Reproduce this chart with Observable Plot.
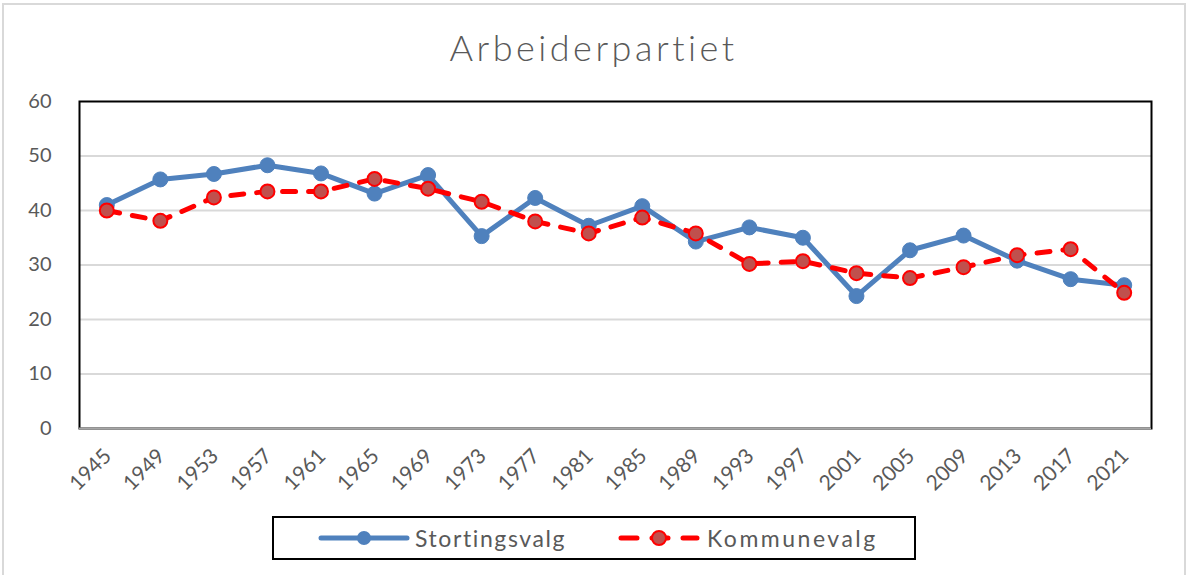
<!DOCTYPE html>
<html>
<head>
<meta charset="utf-8">
<script src="https://cdn.jsdelivr.net/npm/d3@7"></script>
<script src="https://cdn.jsdelivr.net/npm/@observablehq/plot@0.6"></script>
<style>
  html, body { margin: 0; padding: 0; background: #fff; }
  #chart { position: relative; width: 1187px; height: 575px; font-family: Lato, "Open Sans", sans-serif; color: #595959; }
  #border { position: absolute; left: 2px; top: 3px; width: 1184px; height: 572px; border: 2px solid #d9d9d9; box-sizing: border-box; border-bottom: none; }
  #title { position: absolute; left: 0; top: 26px; width: 1187px; text-align: center; font-size: 36px; font-weight: 300; line-height: 42px; letter-spacing: 3.5px; }
  #plot { position: absolute; left: 0; top: 80px; }
  #legend { position: absolute; left: 272px; top: 516px; width: 644px; height: 44px; border: 2px solid #000; box-sizing: border-box; }
  .item { position: absolute; top: 0; height: 40px; display: flex; align-items: center; font-size: 23px; letter-spacing: 1.6px; }
  .item svg { margin-right: 5px; }
</style>
</head>
<body>
<div id="chart">
  <div id="border"></div>
  <div id="title"></div>
  <div id="plot"></div>
  <div id="legend"></div>
</div>
<script>
const titleText = "Arbeiderpartiet";
const years = ["1945","1949","1953","1957","1961","1965","1969","1973","1977","1981","1985","1989","1993","1997","2001","2005","2009","2013","2017","2021"];
const seriesNames = ["Stortingsvalg", "Kommunevalg"];
const stortingsvalg = [41.0, 45.7, 46.7, 48.3, 46.8, 43.1, 46.5, 35.3, 42.3, 37.2, 40.8, 34.3, 36.9, 35.0, 24.3, 32.7, 35.4, 30.8, 27.4, 26.3];
const kommunevalg = [40.0, 38.1, 42.4, 43.5, 43.5, 45.8, 44.0, 41.6, 38.0, 35.8, 38.7, 35.8, 30.2, 30.7, 28.5, 27.6, 29.6, 31.8, 32.9, 24.9];
const yTicks = [0, 10, 20, 30, 40, 50, 60];
const gridValues = [10, 20, 30, 40, 50];

const blue = "#4F81BD";
const red = "#FF0000";
const redFill = "#C0504D";

document.getElementById("title").textContent = titleText;

const dataS = years.map((y, i) => ({year: y, value: stortingsvalg[i]}));
const dataK = years.map((y, i) => ({year: y, value: kommunevalg[i]}));

const chart = Plot.plot({
  width: 1187,
  height: 420,
  marginLeft: 79,
  marginRight: 36,
  marginTop: 21,
  marginBottom: 72,
  style: {fontFamily: "Lato, 'Open Sans', sans-serif", color: "#595959", background: "transparent", overflow: "visible"},
  x: {type: "point", domain: years, padding: 0.51, round: false, label: null},
  y: {domain: [0, 60], label: null},
  marks: [
    Plot.ruleY(gridValues, {stroke: "#d9d9d9", strokeWidth: 2}),
    Plot.frame({stroke: "#000", strokeWidth: 2}),
    Plot.ruleY([0], {stroke: "#a6a6a6", strokeWidth: 2}),
    Plot.axisY({ticks: yTicks, tickSize: 0, tickPadding: 0, dx: -28, fontSize: 20, label: null, tickFormat: d => String(d), style: "letter-spacing:1px"}),
    Plot.axisX({tickSize: 0, tickPadding: 0, dy: 24, dx: 1, tickRotate: -45, fontSize: 21, label: null, style: "letter-spacing:1.5px"}),
    Plot.line(dataS, {x: "year", y: "value", stroke: blue, strokeWidth: 5, strokeLinejoin: "round", strokeLinecap: "round"}),
    Plot.dot(dataS, {x: "year", y: "value", r: 7.5, fill: blue, stroke: blue, strokeWidth: 1}),
    Plot.line(dataK, {x: "year", y: "value", stroke: red, strokeWidth: 5, strokeDasharray: "13,13", strokeLinecap: "round", strokeLinejoin: "round"}),
    Plot.dot(dataK, {x: "year", y: "value", r: 7, fill: redFill, stroke: red, strokeWidth: 2})
  ]
});
document.getElementById("plot").appendChild(chart);

// Legend
const legend = document.getElementById("legend");
function addItem(left, name, solid, spacing) {
  const div = document.createElement("div");
  div.className = "item";
  div.style.left = left + "px";
  div.style.letterSpacing = spacing + "px";
  const s = d3.create("svg").attr("width", solid ? 92 : 86).attr("height", 20);
  if (solid) {
    s.append("line").attr("x1", 3).attr("x2", 89).attr("y1", 10).attr("y2", 10)
      .attr("stroke", blue).attr("stroke-width", 5).attr("stroke-linecap", "round");
    s.append("circle").attr("cx", 46).attr("cy", 10).attr("r", 7).attr("fill", blue);
  } else {
    s.append("line").attr("x1", 5).attr("x2", 81).attr("y1", 10).attr("y2", 10)
      .attr("stroke", red).attr("stroke-width", 5).attr("stroke-linecap", "round")
      .attr("stroke-dasharray", "16,15");
    s.append("circle").attr("cx", 43).attr("cy", 10).attr("r", 7).attr("fill", redFill)
      .attr("stroke", red).attr("stroke-width", 2);
  }
  div.appendChild(s.node());
  const t = document.createElement("span");
  t.textContent = name;
  div.appendChild(t);
  legend.appendChild(div);
}
addItem(44, seriesNames[0], true, 1.6);
addItem(342, seriesNames[1], false, 2.5);
</script>
</body>
</html>
